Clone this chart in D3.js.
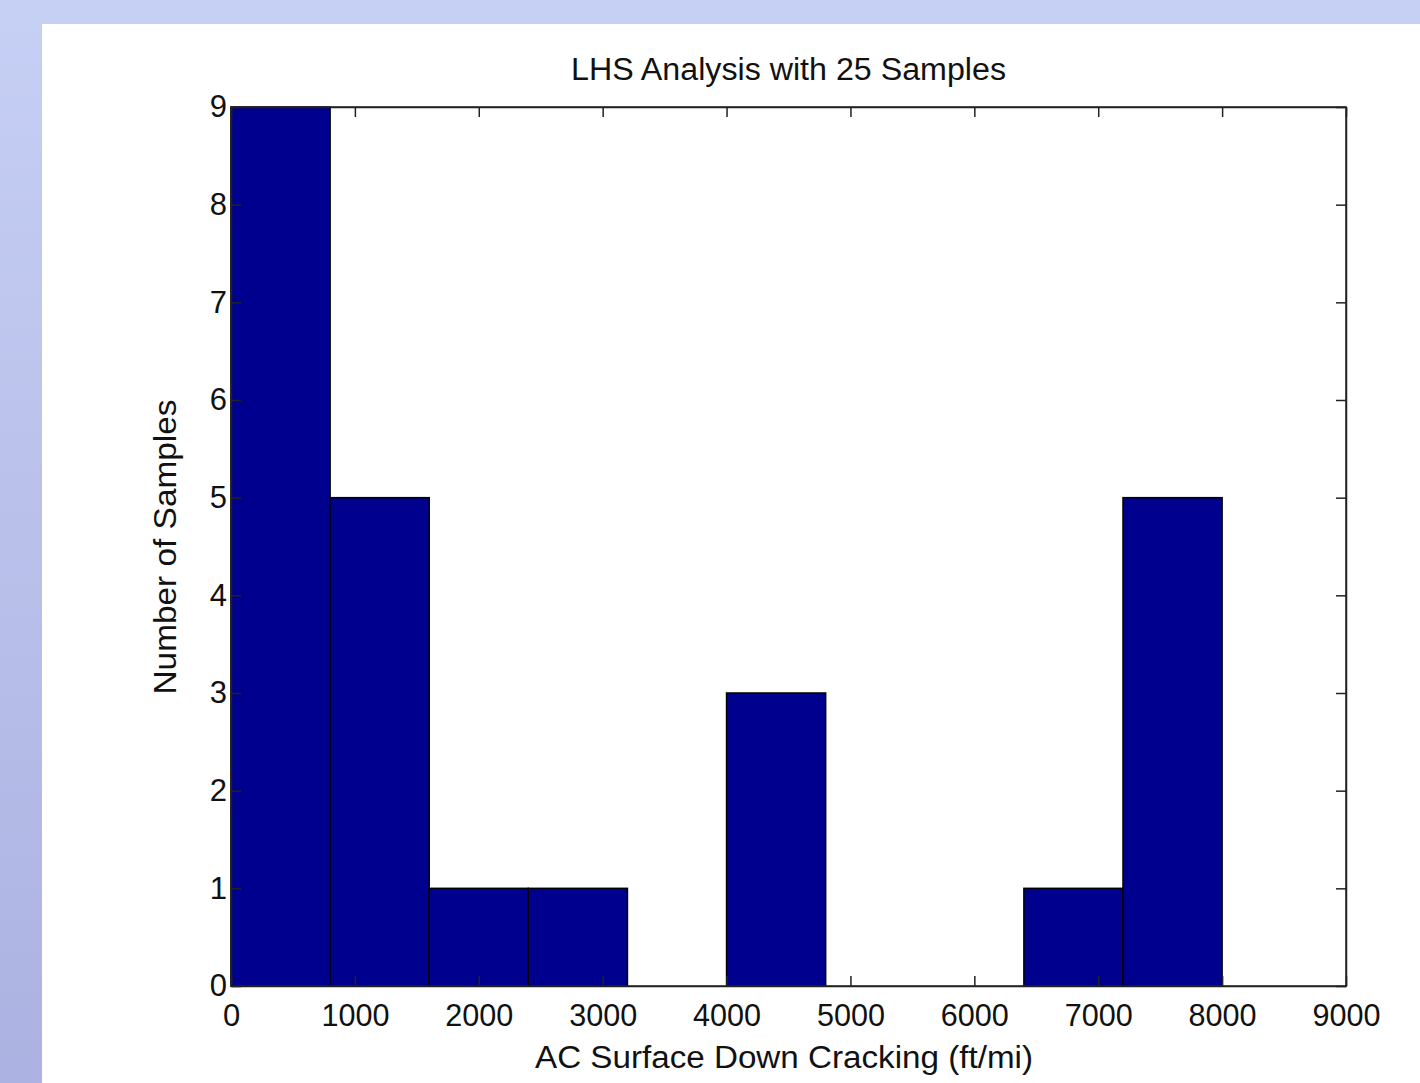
<!DOCTYPE html>
<html>
<head>
<meta charset="utf-8">
<script src="https://d3js.org/d3.v7.min.js"></script>
<style>
  body { margin: 0; }
  text { font-family: "Liberation Sans", Arial, sans-serif; fill: #111; }
</style>
</head>
<body>
<div id="container"></div>
<script>
// Histogram data (MATLAB hist, 10 bins)
const binEdges = [0, 800, 1600, 2400, 3200, 4000, 4800, 5600, 6400, 7200, 8000];
const counts = [9, 5, 1, 1, 0, 3, 0, 0, 1, 5];
const xTicks = [0, 1000, 2000, 3000, 4000, 5000, 6000, 7000, 8000, 9000];
const yTicks = [0, 1, 2, 3, 4, 5, 6, 7, 8, 9];

const width = 1420,
  height = 1083;

const svg = d3.select("div#container")
  .append("svg")
  .attr("width", width)
  .attr("height", height);

// Background slide gradient
const defs = svg.append("defs");
const grad = defs.append("linearGradient")
  .attr("id", "bg")
  .attr("x1", 0).attr("y1", 0).attr("x2", 0).attr("y2", 1);
grad.append("stop").attr("offset", "0%").attr("stop-color", "#c6cff4");
grad.append("stop").attr("offset", "100%").attr("stop-color", "#acb2e1");

svg.append("rect")
  .attr("width", width).attr("height", height)
  .attr("fill", "url(#bg)");
svg.append("rect")
  .attr("x", 42).attr("y", 24)
  .attr("width", width - 42).attr("height", height - 24)
  .attr("fill", "#ffffff");

// Plot area
const pLeft = 231, pRight = 1346, pTop = 107, pBottom = 986;

const x = d3.scaleLinear().domain([0, 9000]).range([pLeft, pRight]);
const y = d3.scaleLinear().domain([0, 9]).range([pBottom, pTop]);

// Bars
const bins = counts.map((c, i) => ({ x0: binEdges[i], x1: binEdges[i + 1], c }));
svg.append("g")
  .selectAll("rect")
  .data(bins.filter((d) => d.c > 0))
  .enter()
  .append("rect")
  .attr("x", (d) => x(d.x0))
  .attr("y", (d) => y(d.c))
  .attr("width", (d) => x(d.x1) - x(d.x0))
  .attr("height", (d) => y(0) - y(d.c))
  .attr("fill", "#00008f")
  .attr("stroke", "#000")
  .attr("stroke-width", 1.5);

// Axes (MATLAB-style box with inward ticks)
const tickLen = 10;
const axStyle = (g) => {
  g.select(".domain").attr("stroke", "#222").attr("stroke-width", 1.5);
  g.selectAll(".tick line").attr("stroke", "#222").attr("stroke-width", 1.5);
  g.selectAll("text").style("font-size", "31px").attr("fill", "#111");
};

svg.append("g")
  .attr("transform", `translate(0,${pBottom})`)
  .call(d3.axisBottom(x).tickValues(xTicks).tickFormat(d3.format("d"))
    .tickSizeInner(-tickLen).tickSizeOuter(0).tickPadding(18))
  .call(axStyle)
  .call((g) => g.selectAll("text").attr("textLength", (d) => d === 0 ? null : 68)
    .attr("lengthAdjust", "spacingAndGlyphs"));

svg.append("g")
  .attr("transform", `translate(0,${pTop})`)
  .call(d3.axisTop(x).tickValues(xTicks).tickFormat("")
    .tickSizeInner(-tickLen).tickSizeOuter(0))
  .call(axStyle);

svg.append("g")
  .attr("transform", `translate(${pLeft},0)`)
  .call(d3.axisLeft(y).tickValues(yTicks).tickFormat(d3.format("d"))
    .tickSizeInner(-tickLen).tickSizeOuter(0).tickPadding(4))
  .call(axStyle);

svg.append("g")
  .attr("transform", `translate(${pRight},0)`)
  .call(d3.axisRight(y).tickValues(yTicks).tickFormat("")
    .tickSizeInner(-tickLen).tickSizeOuter(0))
  .call(axStyle);

// Redraw box edges on top of bars
svg.append("rect")
  .attr("x", pLeft).attr("y", pTop)
  .attr("width", pRight - pLeft).attr("height", pBottom - pTop)
  .attr("fill", "none")
  .attr("stroke", "#222")
  .attr("stroke-width", 1.5);

// Titles
svg.append("text")
  .attr("x", (pLeft + pRight) / 2).attr("y", 80)
  .attr("text-anchor", "middle")
  .style("font-size", "31px")
  .attr("textLength", 435).attr("lengthAdjust", "spacingAndGlyphs")
  .text("LHS Analysis with 25 Samples");

svg.append("text")
  .attr("x", 784).attr("y", 1068)
  .attr("text-anchor", "middle")
  .style("font-size", "31px")
  .attr("textLength", 498).attr("lengthAdjust", "spacingAndGlyphs")
  .text("AC Surface Down Cracking (ft/mi)");

svg.append("text")
  .attr("transform", `translate(176,547) rotate(-90)`)
  .attr("text-anchor", "middle")
  .style("font-size", "31px")
  .attr("textLength", 295).attr("lengthAdjust", "spacingAndGlyphs")
  .text("Number of Samples");
</script>
</body>
</html>
